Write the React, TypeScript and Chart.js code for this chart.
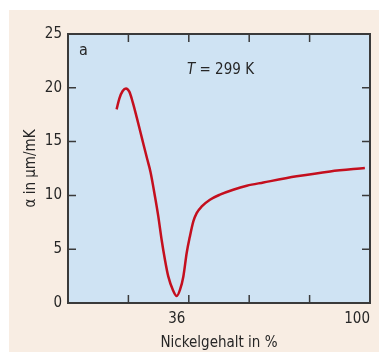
import React, { useEffect, useRef } from "react";
import { Chart, registerables } from "chart.js";

Chart.register(...registerables);

// Data
const nickelPercent = [16.1, 17.0, 18.1, 19.2, 20.3, 21.4, 22.8, 24.5, 26.2, 27.3, 28.8, 29.9, 31.0, 32.1, 33.2, 34.7, 36.0, 37.1, 38.2, 39.3, 40.3, 41.5, 42.6, 44.3, 47.0, 50.3, 54.7, 59.2, 64.7, 75.7, 86.8, 98.3];
const alphaValues = [18.0, 19.0, 19.7, 19.94, 19.64, 18.7, 17.2, 15.3, 13.4, 12.2, 9.9, 8.05, 5.88, 4.02, 2.47, 1.24, 0.65, 1.24, 2.47, 4.65, 6.1, 7.58, 8.36, 8.98, 9.6, 10.07, 10.53, 10.9, 11.2, 11.77, 12.23, 12.55];

const xTickLabels = [0, 36, 100];
const xTickMarks = [20, 40, 60, 80];
const yTickMarks = [5, 10, 15, 20];

const xTitle = "Nickelgehalt in %";
const yTitle = "α in µm/mK";
const panelLabel = "a";
const tempSymbol = "T";
const tempValue = " = 299 K";

const FONT = '"DejaVu Sans Condensed", "Liberation Sans Narrow", sans-serif';
const SIZE = 15;
const TEXT = "#262626";
const AXIS = "#3a3a3a";
const BEIGE = "#f8ede3";
const BLUE = "#cfe3f3";
const RED = "#c40f1e";

const framePlugin = {
  id: "frame",
  beforeDraw(chart: any) {
    const { ctx, chartArea: a } = chart;
    ctx.save();
    ctx.fillStyle = BLUE;
    ctx.fillRect(a.left, a.top, a.right - a.left, a.bottom - a.top);
    ctx.restore();
  },
  afterDatasetsDraw(chart: any) {
    const { ctx, chartArea: a, scales } = chart;
    ctx.save();
    ctx.strokeStyle = AXIS;
    ctx.lineWidth = 2;
    ctx.strokeRect(a.left, a.top, a.right - a.left, a.bottom - a.top);
    ctx.lineWidth = 1.5;
    ctx.beginPath();
    for (const v of xTickMarks) {
      const px = scales.x.getPixelForValue(v);
      ctx.moveTo(px, a.bottom);
      ctx.lineTo(px, a.bottom - 8);
      ctx.moveTo(px, a.top);
      ctx.lineTo(px, a.top + 8);
    }
    for (const v of yTickMarks) {
      const py = scales.y.getPixelForValue(v);
      ctx.moveTo(a.left, py);
      ctx.lineTo(a.left + 8, py);
      ctx.moveTo(a.right, py);
      ctx.lineTo(a.right - 8, py);
    }
    ctx.stroke();

    ctx.fillStyle = TEXT;
    ctx.textAlign = "left";
    ctx.textBaseline = "alphabetic";
    ctx.font = `${SIZE + 1}px ${FONT}`;
    ctx.fillText(panelLabel, a.left + 11, a.top + 21);

    const tx = a.left + 119;
    const ty = a.top + 40;
    ctx.font = `italic ${SIZE}px ${FONT}`;
    ctx.fillText(tempSymbol, tx, ty);
    const w = ctx.measureText(tempSymbol).width;
    ctx.font = `${SIZE}px ${FONT}`;
    ctx.fillText(tempValue, tx + w, ty);
    ctx.restore();
  },
};

export default function App() {
  const canvasRef = useRef<HTMLCanvasElement | null>(null);

  useEffect(() => {
    if (!canvasRef.current) return;
    const chart = new Chart(canvasRef.current, {
      type: "line",
      data: {
        datasets: [
          {
            data: nickelPercent.map((x, i) => ({ x, y: alphaValues[i] })),
            borderColor: RED,
            borderWidth: 2.5,
            pointRadius: 0,
            fill: false,
            cubicInterpolationMode: "monotone",
          },
        ],
      },
      options: {
        animation: false,
        responsive: true,
        maintainAspectRatio: false,
        layout: { padding: { top: 24, right: 9, left: 0, bottom: 0 } },
        plugins: { legend: { display: false }, tooltip: { enabled: false } },
        scales: {
          x: {
            type: "linear",
            min: 0,
            max: 100,
            grid: { display: false, drawTicks: false, tickLength: 0 },
            border: { display: false },
            afterBuildTicks: (s: any) => {
              s.ticks = xTickLabels.map((v) => ({ value: v }));
            },
            afterFit: (s: any) => {
              s.height = 49;
              s.paddingLeft = 0;
              s.paddingRight = 0;
            },
            ticks: {
              align: "inner",
              autoSkip: false,
              maxRotation: 0,
              padding: 7,
              color: TEXT,
              font: { family: FONT, size: SIZE },
              callback: (v: any) => (v === 0 ? "" : String(v)),
            },
            title: {
              display: true,
              text: xTitle,
              color: TEXT,
              padding: { top: 0, bottom: 1 },
              font: { family: FONT, size: SIZE, lineHeight: 1.1 },
            },
          },
          y: {
            type: "linear",
            min: 0,
            max: 25,
            grid: { display: false, drawTicks: false, tickLength: 0 },
            border: { display: false },
            afterFit: (s: any) => {
              s.width = 59;
            },
            ticks: {
              stepSize: 5,
              padding: 6,
              color: TEXT,
              font: { family: FONT, size: SIZE },
            },
            title: {
              display: true,
              text: yTitle,
              color: TEXT,
              padding: { top: 13, bottom: 0 },
              font: { family: FONT, size: SIZE, lineHeight: 1.2 },
            },
          },
        },
      },
      plugins: [framePlugin],
    } as any);
    return () => chart.destroy();
  }, []);

  return (
    <div
      style={{
        position: "absolute",
        left: 9,
        top: 10,
        width: 370,
        height: 342,
        background: BEIGE,
      }}
    >
      <canvas ref={canvasRef} />
    </div>
  );
}
